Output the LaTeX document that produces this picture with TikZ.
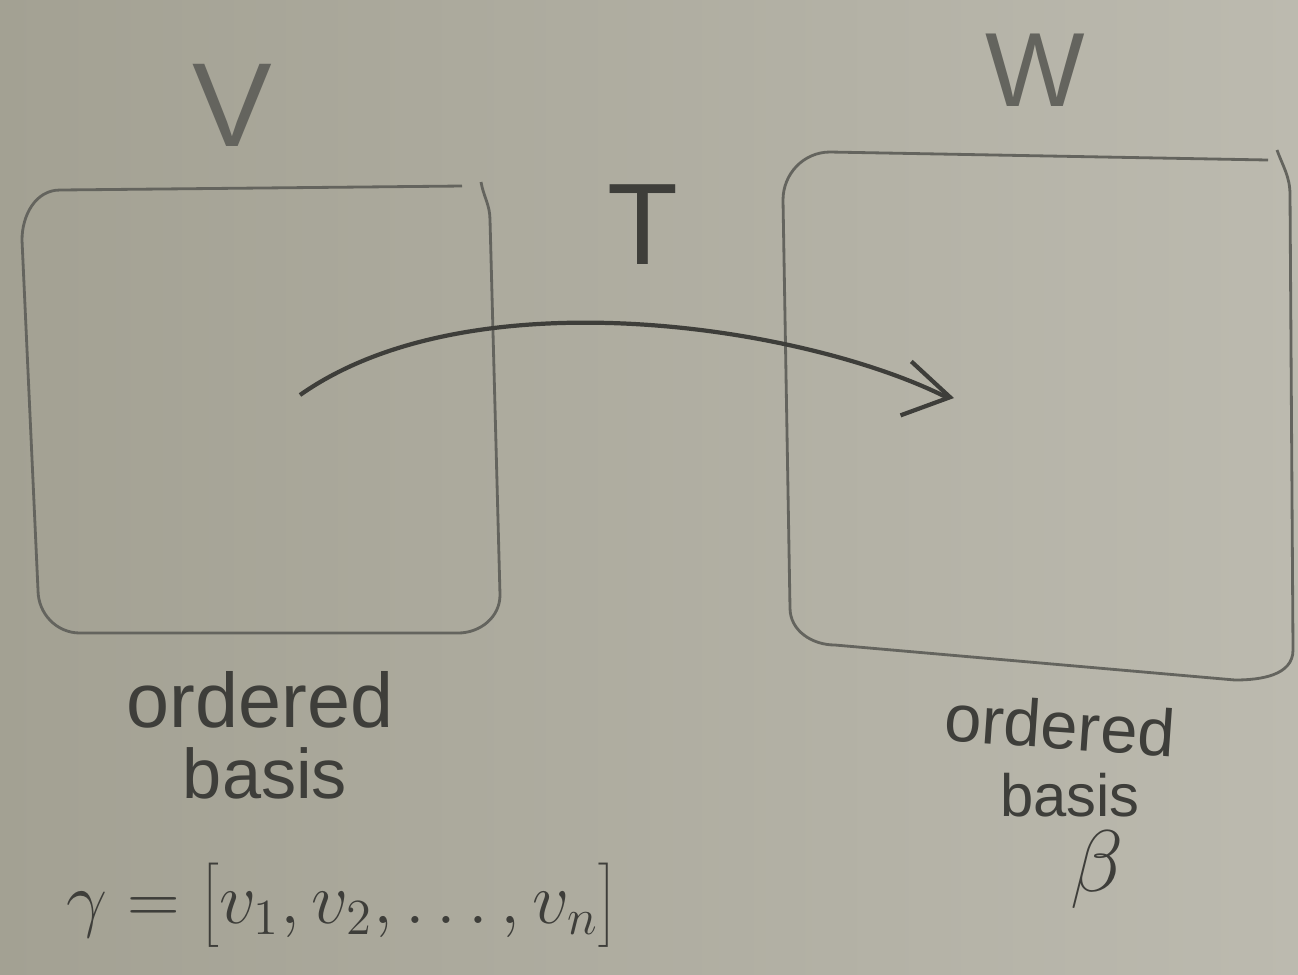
\documentclass[tikz,border=0pt]{standalone}
\usepackage{fontspec}
\setmainfont{Liberation Sans}
\usetikzlibrary{arrows.meta}

\definecolor{board}{RGB}{163,161,147}
\definecolor{boardlight}{RGB}{188,186,175}
\definecolor{marker}{RGB}{62,62,58}
\definecolor{pencil}{RGB}{100,100,94}

\tikzset{
  boxline/.style = {draw = pencil, line width = 0.8pt, line join = round},
  mapline/.style = {draw = marker, line width = 1.2pt,
                    -{Straight Barb[length = 4.5mm, width = 5.5mm, line width = 1.2pt]}},
  label/.style   = {text = marker, inner sep = 0pt, align = center}
}

\begin{document}
\begin{tikzpicture}[x = 0.1mm, y = -0.1mm]
  % board
  \shade[left color = board, right color = boardlight] (0, 0) rectangle (1298, 974);
  \useasboundingbox (0, 0) rectangle (1298, 974);

  % the two spaces
  \draw[boxline] (462, 186) -- (60, 190) to[out = 180, in = 90] (22, 240)
    -- (38, 590) to[out = -90, in = 180] (80, 633) -- (458, 633)
    to[out = 0, in = -90] (500, 595) -- (490, 220) to[out = 90, in = -80] (481, 182);
  \draw[boxline] (1268, 160) -- (830, 152) to[out = 180, in = 90] (783, 200)
    -- (790, 608) to[out = -90, in = 180] (835, 645) -- (1235, 680)
    to[out = 0, in = -90] (1293, 650) -- (1290, 195) to[out = 90, in = -70] (1277, 150);

  \node[label, text = pencil, font = \fontsize{34}{38}\selectfont] (V) at (232, 105) {V};
  \node[label, text = pencil, font = \fontsize{30}{34}\selectfont] (W) at (1035, 70) {W};

  % the map
  \coordinate (tail) at (300, 395);
  \coordinate (bend) at (944, 396);
  \coordinate (head) at (954, 398);
  \draw[mapline] (tail) .. controls (470, 275) and (800, 325) .. (bend) -- (head);
  \node[label, font = \fontsize{33}{36}\selectfont] (T) at (643, 225) {T};

  % bases
  \node[label, font = \fontsize{22}{24}\selectfont] (ordV) at (260, 700) {ordered};
  \node[label, font = \fontsize{20}{22}\selectfont] (basV) at (265, 773) {basis};
  \node[label, font = \fontsize{20}{22}\selectfont] (gamma) at (342, 905)
    {$\gamma=\Biggl[v_1,v_2,\dots,v_n\Biggr]$};

  \node[label, font = \fontsize{19}{22}\selectfont, rotate = -4] (ordW) at (1060, 725) {ordered};
  \node[label, font = \fontsize{17}{20}\selectfont] (basW) at (1070, 795) {basis};
  \node[label, font = \fontsize{24}{26}\selectfont] (beta) at (1097, 870) {$\beta$};
\end{tikzpicture}
\end{document}
